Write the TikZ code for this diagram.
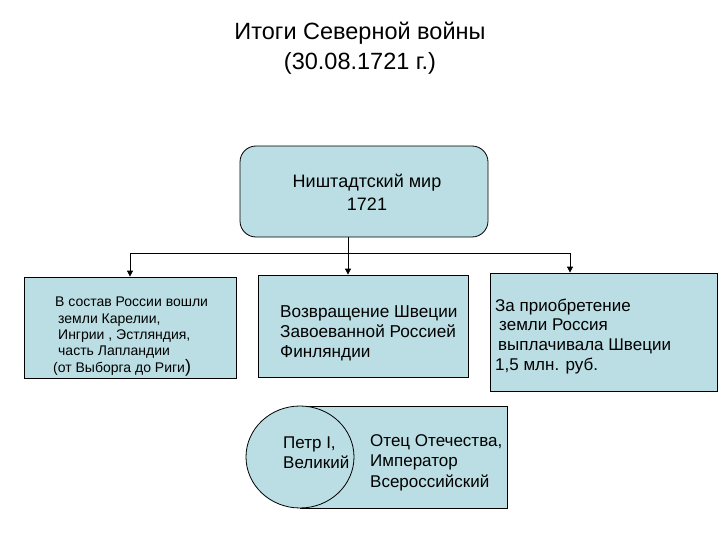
\documentclass[tikz,border=0pt]{standalone}
\usepackage{fontspec}
\setmainfont{Liberation Sans}
\usetikzlibrary{arrows.meta,shapes.geometric}
\definecolor{boxblue}{RGB}{186,222,227}
\tikzset{
  box/.style={draw=black, fill=boxblue, line width=0.8pt, inner sep=0pt},
  txt/.style={inner sep=0pt, anchor=base west, align=left},
  conn/.style={line width=0.8pt, draw=black},
  arr/.style={conn, -{Triangle[length=6pt,width=6pt]}}
}
\newcommand{\fs}[2]{\fontsize{#1}{#2}\selectfont}
\begin{document}
\begin{tikzpicture}[x=1pt,y=-1pt]
\useasboundingbox (0,0) rectangle (720,540);
\fill[white] (0,0) rectangle (720,540);
% title
\node[inner sep=0pt, align=center, anchor=base, font=\fs{23.5}{30}] (title) at (360,70)
  {Итоги Северной войны\\(30.08.1721 г.)};
% top box
\node[box, rounded corners=16pt, minimum width=248pt, minimum height=91pt] (peace) at (364,191.5) {};
\node[inner sep=0pt, align=center, anchor=base, font=\fs{18}{23}] (peacet) at (367,211)
  {Ништадтский мир\\1721};
% three boxes
\node[box, minimum width=212pt, minimum height=101pt] (A) at (130,327.5) {};
\node[box, minimum width=210pt, minimum height=102pt] (B) at (363,326) {};
\node[box, minimum width=227pt, minimum height=118pt] (C) at (603.5,332) {};
\node[txt, font=\fs{14}{16.3}] (At) at (53,372) {\hspace*{2pt}В состав России вошли\\
  \hspace*{5pt}земли Карелии,\\
  \hspace*{5pt}Ингрии , Эстляндия,\\
  \hspace*{5pt}часть Лапландии\\
  (от Выборга до Риги{\fs{18}{16.3})}};
\node[txt, font=\fs{17.2}{20}] (Bt) at (280,357) {Возвращение Швеции\\Завоеванной Россией\\Финляндии};
\node[txt, font=\fs{17}{19.6}] (Ct) at (495,370) {За приобретение\\
  \hspace*{4pt}земли Россия\\
  \hspace*{3pt}выплачивала Швеции\\
  1,5 млн. руб.};
% bottom
\node[box, minimum width=207pt, minimum height=102pt] (D) at (403.5,457) {};
\node[box, ellipse, minimum width=108pt, minimum height=102pt] (E) at (300,457) {};
\node[txt, font=\fs{17}{20}] (Et) at (283,468) {Петр I,\\Великий};
\node[txt, font=\fs{17}{20.5}] (Dt) at (370,487) {Отец Отечества,\\Император\\Всероссийский};
% connectors
\coordinate (jl) at (130,253);
\coordinate (jr) at (570,253);
\coordinate (jm) at (348,253);
\draw[conn] (jl) -- (jr);
\draw[arr] (jl) -- (A.north -| jl);
\draw[arr] (jr) -- (C.north -| jr);
\draw[arr] (peace.south -| jm) -- (B.north -| jm);
\end{tikzpicture}
\end{document}
